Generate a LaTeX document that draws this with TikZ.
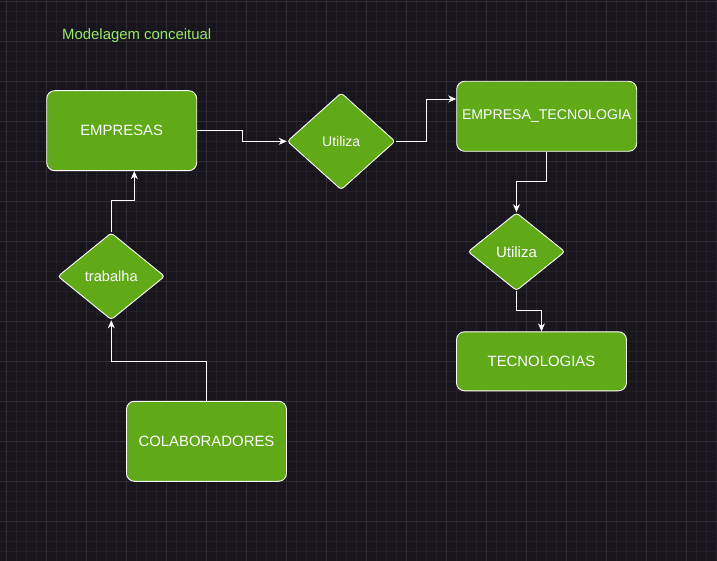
\documentclass[tikz,border=0pt]{standalone}
\usepackage{fontspec}
\setmainfont{Liberation Sans}
\usepackage{xcolor}
\definecolor{canvas}{HTML}{18151D}
\definecolor{gridfine}{HTML}{221F28}
\definecolor{gridbold}{HTML}{302D36}
\definecolor{leaf}{HTML}{60A917}
\definecolor{lime}{HTML}{95EB60}
\usetikzlibrary{shapes.geometric, arrows.meta}
\tikzset{
    entity/.style = {
      rectangle,
      rounded corners = 8pt,
      fill = leaf,
      draw = white,
      line width = 0.9pt,
      text = white,
      inner sep = 0pt,
      font = \fontsize{14.9}{17}\selectfont
    },
    relation/.style = {
      diamond,
      rounded corners = 3pt,
      fill = leaf,
      draw = white,
      line width = 0.9pt,
      text = white,
      inner sep = 0pt,
      font = \fontsize{14.6}{17}\selectfont
    },
    heading/.style = {
      text = lime,
      inner sep = 0pt,
      font = \fontsize{14.9}{17}\selectfont
    },
    -->/.style = {
      draw = white,
      line width = 0.9pt,
      -{Stealth[length=8pt, width=7pt, inset=2.5pt]}
    },
}
\begin{document}
\begin{tikzpicture}[x=1pt, y=-1pt]
	    % canvas and grid
	    \useasboundingbox (0,0) rectangle (717,561);
	    \fill[canvas] (0,0) rectangle (717,561);
	    \foreach \gx in {6.7,16.7,...,716.7}
	        \draw[gridfine, line width=0.8pt] (\gx,0) -- (\gx,561);
	    \foreach \gy in {1.7,11.7,...,561.7}
	        \draw[gridfine, line width=0.8pt] (0,\gy) -- (717,\gy);
	    \foreach \gx in {6.7,46.7,...,686.7}
	        \draw[gridbold, line width=0.9pt] (\gx,0) -- (\gx,561);
	    \foreach \gy in {1.7,41.7,...,561.7}
	        \draw[gridbold, line width=0.9pt] (0,\gy) -- (717,\gy);

	    \node[heading, anchor=base west] (TITLE) at (62,40) {Modelagem conceitual};

	    \node[entity, minimum width=150pt, minimum height=80pt] (EMP) at (121.7,130.7) {EMPRESAS};
	    \node[relation, minimum width=108pt, minimum height=97pt, font=\fontsize{14}{16}\selectfont] (USE1) at (341.2,141.3) {Utiliza};
	    \node[entity, minimum width=180pt, minimum height=70pt, font=\fontsize{14.1}{16}\selectfont] (EMPTEC) at (546.7,116.3) {EMPRESA\_TECNOLOGIA};
	    \node[relation, minimum width=97pt, minimum height=78pt, font=\fontsize{15}{17}\selectfont] (USE2) at (516.5,251.7) {Utiliza};
	    \node[entity, minimum width=170pt, minimum height=59pt] (TEC) at (541.5,361.3) {TECNOLOGIAS};
	    \node[relation, minimum width=107pt, minimum height=87pt] (WORK) at (111.3,276.3) {trabalha};
	    \node[entity, minimum width=160pt, minimum height=80pt] (COL) at (206.5,441.3) {COLABORADORES};

	    \draw[-->] (EMP.east) -- ++(45,0) |- (USE1.west);
	    \draw[-->] (USE1.east) -- ++(31,0) |- ([yshift=17.3pt]EMPTEC.west);
	    \draw[-->] (EMPTEC.south) -- ++(0,30) -| (USE2.north);
	    \draw[-->] (USE2.south) -- ++(0,19) -| (TEC.north);
	    \draw[-->] (COL.north) -- ++(0,-39.7) -| (WORK.south);
	    \draw[-->] (WORK.north) -- ++(0,-31.5) -| ([xshift=12.6pt]EMP.south);
\end{tikzpicture}
\end{document}
